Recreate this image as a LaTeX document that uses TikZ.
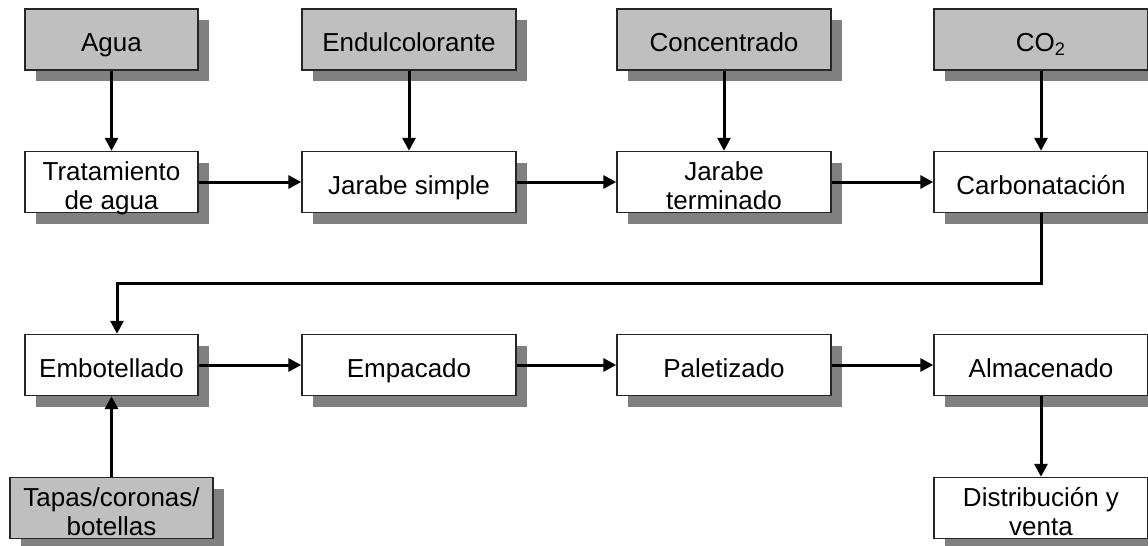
\documentclass[tikz,border=0pt]{standalone}
\usepackage{fontspec}
\setmainfont{Liberation Sans}
\usetikzlibrary{arrows.meta,shadows}
\tikzset{
  caja/.style={draw=black!85,line width=0.7pt,fill=white,align=center,inner sep=0pt,
    minimum width=107pt,minimum height=30.5pt,font=\fontsize{13}{14.5}\selectfont,
    text height=12pt,text depth=0pt,
    drop shadow={shadow xshift=5.5pt,shadow yshift=-5.5pt,fill=black!50,opacity=1}},
  dos/.style={text height=27.5pt,text depth=0pt},
  insumo/.style={caja,fill=black!25},
  flecha/.style={line width=1.5pt,-{Triangle[length=6.5pt,width=6.5pt]}}
}

\begin{document}
\begin{tikzpicture}[x=0.5pt,y=-0.5pt]
\useasboundingbox (0,0) rectangle (1148,546);

% insumos
\node [insumo,minimum width=86.5pt] (agua) at (111.5,39.5) {Agua};
\node [insumo] (endul) at (409,39.5) {Endulcolorante};
\node [insumo] (conc) at (724,39.5) {Concentrado};
\node [insumo] (co2) at (1041,39.5) {CO\textsubscript{2}};
\node [insumo,dos,minimum width=101.5pt] (tapas) at (111.5,508) {Tapas/coronas/\\botellas};

% proceso
\node [caja,dos,minimum width=86.5pt] (trat) at (111.5,182) {Tratamiento\\de agua};
\node [caja] (jsimple) at (409,182) {Jarabe simple};
\node [caja,dos] (jterm) at (724,182) {Jarabe\\terminado};
\node [caja] (carb) at (1041,182) {Carbonatación};
\node [caja,minimum width=86.5pt] (embo) at (111.5,365) {Embotellado};
\node [caja] (empa) at (409,365) {Empacado};
\node [caja] (pale) at (724,365) {Paletizado};
\node [caja] (alma) at (1041,365) {Almacenado};
\node [caja,dos] (dist) at (1041,508) {Distribución y\\venta};

\draw [flecha] (agua) -- (trat);
\draw [flecha] (endul) -- (jsimple);
\draw [flecha] (conc) -- (jterm);
\draw [flecha] (co2) -- (carb);

\draw [flecha] (trat) -- (jsimple);
\draw [flecha] (jsimple) -- (jterm);
\draw [flecha] (jterm) -- (carb);

\coordinate (codo) at (117,283);
\draw [flecha] (carb.south) |- (codo) -- (codo |- embo.north);

\draw [flecha] (tapas) -- (embo);
\draw [flecha] (embo) -- (empa);
\draw [flecha] (empa) -- (pale);
\draw [flecha] (pale) -- (alma);
\draw [flecha] (alma) -- (dist);
\end{tikzpicture}
\end{document}
